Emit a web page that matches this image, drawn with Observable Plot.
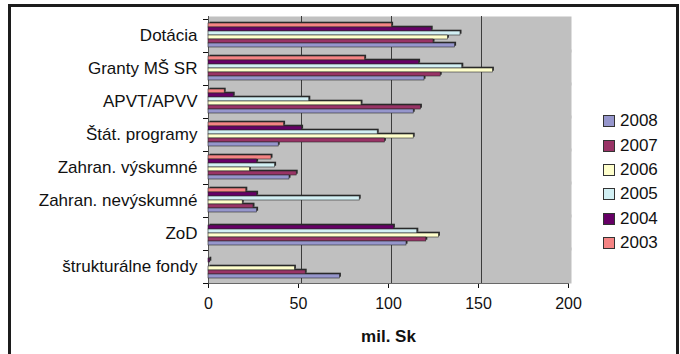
<!DOCTYPE html>
<html>
<head>
<meta charset="utf-8">
<script src="https://cdn.jsdelivr.net/npm/d3@7"></script>
<script src="https://cdn.jsdelivr.net/npm/@observablehq/plot@0.6"></script>
<style>
  body { margin: 0; background: #fff; font-family: "Liberation Sans", Arial, sans-serif; }
  #wrap { position: relative; width: 680px; height: 354px; overflow: hidden; }
  #box { position: absolute; left: 8px; top: 4px; width: 665px; height: 380px; border: 3px solid #1c1c1c; box-sizing: content-box; }
  #chart { position: absolute; left: 0; top: 0; }
  #legend { position: absolute; left: 603px; top: 109px; }
  .item { display: flex; align-items: center; height: 24.4px; font-size: 17px; color: #111; }
  .sw { width: 10px; height: 10px; border: 1px solid #333; margin-right: 5px; }
  svg [aria-label="x-axis label"] text { font-weight: bold; font-size: 17px; }
</style>
</head>
<body>
<div id="wrap">
  <div id="box"></div>
  <div id="chart"></div>
  <div id="legend"></div>
</div>
<script>
// Funding sources (mil. Sk) by year
const categories = ["Dotácia", "Granty MŠ SR", "APVT/APVV", "Štát. programy",
  "Zahran. výskumné", "Zahran. nevýskumné", "ZoD", "štrukturálne fondy"];
const years = ["2003", "2004", "2005", "2006", "2007", "2008"];
const v2003 = [102, 87, 9, 42, 35, 21, 0, 0];
const v2004 = [124, 117, 14, 52, 27, 27, 103, 1];
const v2005 = [140, 141, 56, 94, 37, 84, 116, 0];
const v2006 = [133, 158, 85, 114, 23, 19, 128, 48];
const v2007 = [125, 129, 118, 98, 49, 25, 121, 54];
const v2008 = [137, 120, 114, 39, 45, 27, 110, 73];
const colors = ["#f58484", "#660066", "#d2f0f4", "#ffffcc", "#993366", "#9696cc"];
const xTicks = [0, 50, 100, 150, 200];
const gridValues = [50, 100, 150];

const series = [v2003, v2004, v2005, v2006, v2007, v2008];
const rows = categories.flatMap((c, i) =>
  years.map((y, j) => ({category: c, year: y, value: series[j][i]}))
).filter(d => d.value > 0);

const chart = Plot.plot({
  width: 680,
  height: 354,
  marginLeft: 208,
  marginRight: 112,
  marginTop: 19,
  marginBottom: 71,
  style: {fontFamily: '"Liberation Sans", Arial, sans-serif', fontSize: "16px", color: "#111", background: "transparent", overflow: "visible"},
  x: {domain: [0, 200], ticks: xTicks, tickSize: 5, tickPadding: 9, line: true,
      label: "mil. Sk", labelAnchor: "center", labelArrow: "none", labelOffset: 58},
  y: {domain: years, axis: null, paddingInner: 0, paddingOuter: 0.75, align: 0.4},
  fy: {domain: categories, padding: 0, label: null},
  color: {domain: years, range: colors},
  marks: [
    // back wall, stretched slightly up and right for the 3-D depth
    Plot.frame({fill: "#c0c0c0", stroke: null, insetRight: -3, insetTop: -3}),
    Plot.ruleX(gridValues, {dx: 3, stroke: "#3c3c3c", insetTop: -3}),
    Plot.ruleX([0], {stroke: "#555", insetTop: -3}),
    // dark offset copy gives each bar its depth edge
    Plot.barX(rows, {fy: "category", y: "year", x: "value", fill: "#2a2a2a", dx: 1.5, dy: -1.3}),
    Plot.barX(rows, {fy: "category", y: "year", x: "value", fill: "year", stroke: "#2a2a2a", strokeWidth: 0.6}),
    Plot.axisFy({anchor: "left", tickSize: 0, tickPadding: 11, label: null, fontSize: 17}),
    Plot.axisFy({anchor: "left", tickSize: 5, tickFormat: () => "", dy: -16.5, label: null}),
    Plot.axisFy({anchor: "left", tickSize: 5, tickFormat: () => "", dy: 16.5, label: null})
  ]
});
document.getElementById("chart").append(chart);

// legend, newest year first
const legend = document.getElementById("legend");
years.slice().reverse().forEach(y => {
  const item = document.createElement("div");
  item.className = "item";
  const sw = document.createElement("div");
  sw.className = "sw";
  sw.style.background = colors[years.indexOf(y)];
  item.append(sw, document.createTextNode(y));
  legend.append(item);
});
</script>
</body>
</html>
